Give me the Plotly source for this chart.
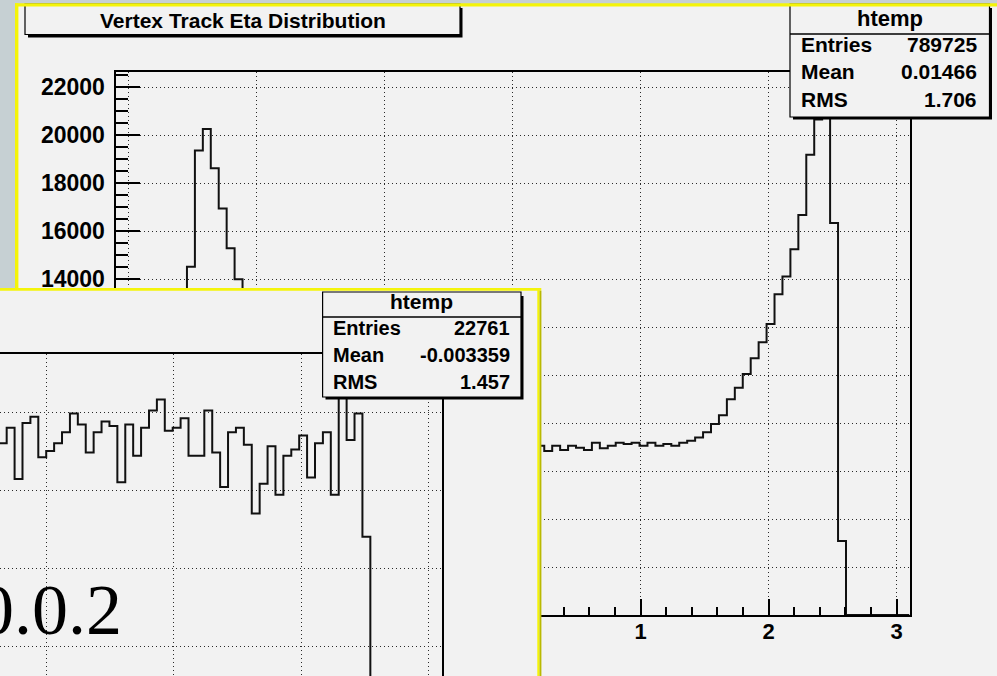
import numpy as np
import plotly.graph_objects as go

# ---------------- data ----------------
X_MIN, X_MAX, N_BINS = -3.1, 3.1, 100

# main histogram (Vertex Track Eta), 100 bins from -3.1 to 3.1
main_counts = [
    0, 0, 0, 0, 0, 0, 0, 0,
    2900, 14510, 19350, 20250, 18610, 16940, 15280, 13990,
    13200, 12300, 11250, 10550, 9950, 9350, 8900, 8300, 7900, 7600, 7380, 7230,
    7150, 7050, 7180, 6900, 7100, 7050, 7180, 6950, 7120, 7000, 7180, 7060, 6900,
    7150, 7100, 6980, 7200, 7050, 6880, 7120, 7040, 7180, 6950, 7100, 7000,
    7050, 6830, 7050, 6875, 7050, 6970, 6875, 7180, 6945, 7050, 7180, 7125, 7180,
    7050, 7180, 7050, 7125, 7050, 7180, 7265, 7400, 7610, 7960, 8320, 8985, 9470,
    10040, 10695, 11360, 12125, 13360, 14100, 15240, 16670, 19180, 20650, 21550,
    16330, 3080,
    0, 0, 0, 0, 0, 0, 0, 0,
]
main_entries, main_mean, main_rms = "789725", "0.01466", "1.706"

# inset histogram: visible bins, starting at bin index 43
INSET_FIRST_BIN = 43
inset_counts = [
    309, 280, 290, 257, 293, 297, 271, 275, 280, 287, 299, 292, 274, 287, 294,
    291, 255, 292, 272, 290, 301, 308, 288, 290, 296, 272, 272, 301, 274, 252,
    287, 290, 279, 235, 254, 278, 247, 272, 276, 285, 258, 280, 287, 247, 321,
    282, 299, 220, 0,
]
inset_entries, inset_mean, inset_rms = "22761", "-0.003359", "1.457"

main_x_ticks = [-3, -2, -1, 0, 1, 2, 3]
main_y_ticks = [0, 2000, 4000, 6000, 8000, 10000, 12000, 14000, 16000, 18000, 20000, 22000]
inset_x_grid = [0, 1, 2, 3]
inset_y_grid = [150, 200, 250, 300]

title_text = "Vertex Track Eta Distribution"
hist_name = "htemp"
overlay_text = "0.0.2"

# ---------------- layout helpers ----------------
W, H = 997, 676
def px(x):
    return x / W
def py(y):
    return 1 - y / H

CANVAS = "#f2f2f2"
YELLOW = "#f4f40a"
OLIVE = "#b9b900"
SANS = "Liberation Sans, Arial, sans-serif"

edges = np.linspace(X_MIN, X_MAX, N_BINS + 1)

fig = go.Figure()

# main histogram
fig.add_trace(go.Scatter(
    x=edges, y=main_counts + [main_counts[-1]],
    mode="lines", line=dict(shape="hv", color="#111111", width=2),
    xaxis="x", yaxis="y", hoverinfo="skip", showlegend=False))

# inset canvas cover (empty subplot that hides the main pad underneath)
fig.add_trace(go.Scatter(x=[], y=[], xaxis="x2", yaxis="y2",
                         hoverinfo="skip", showlegend=False))

# inset histogram
inset_edges = edges[INSET_FIRST_BIN:INSET_FIRST_BIN + len(inset_counts) + 1]
fig.add_trace(go.Scatter(
    x=inset_edges, y=inset_counts + [inset_counts[-1]],
    mode="lines", line=dict(shape="hv", color="#111111", width=2),
    xaxis="x3", yaxis="y3", hoverinfo="skip", showlegend=False))

grid = dict(showgrid=True, gridcolor="#2a2a2a", gridwidth=1, griddash="1px,3px",
            automargin=False)

fig.update_layout(
    width=W, height=H, autosize=False, margin=dict(l=0, r=0, t=0, b=0, pad=0, autoexpand=False),
    paper_bgcolor="#c6d0d3", plot_bgcolor=CANVAS,
    showlegend=False,
    xaxis=dict(
        domain=[px(115.5), px(909.5)], range=[X_MIN, X_MAX], anchor="y",
        showline=True, linecolor="black", linewidth=2, mirror=True,
        ticks="inside", ticklen=16, tickwidth=2, tickcolor="black",
        tickvals=main_x_ticks, zeroline=False,
        tickfont=dict(family=SANS, size=22, color="black", weight="bold"),
        ticklabelstandoff=-4,
        minor=dict(dtick=0.2, tick0=0, ticks="inside", ticklen=8, tickwidth=1.5,
                   tickcolor="black", showgrid=False),
        **grid),
    yaxis=dict(
        domain=[py(615), py(72)], range=[0, 22625], anchor="x",
        showline=True, linecolor="black", linewidth=2, mirror=True,
        ticks="inside", ticklen=24, tickwidth=2, tickcolor="black",
        tickvals=main_y_ticks, tickformat="d", zeroline=False,
        tickfont=dict(family=SANS, size=23, color="black", weight="bold"),
        ticklabelstandoff=4,
        minor=dict(dtick=500, tick0=0, ticks="inside", ticklen=12, tickwidth=1.5,
                   tickcolor="black", showgrid=False),
        **grid),
    xaxis2=dict(domain=[0, px(541)], range=[0, 1], anchor="y2", visible=False,
                automargin=False),
    yaxis2=dict(domain=[0, py(290)], range=[0, 1], anchor="x2", visible=False,
                automargin=False),
    xaxis3=dict(
        domain=[0, px(442)], range=[-0.3624, 3.104], anchor="y3", side="top",
        showline=True, linecolor="black", linewidth=2, ticks="",
        showticklabels=False, tickvals=inset_x_grid, zeroline=False, **grid),
    yaxis3=dict(
        domain=[0, py(354)], range=[130.8, 337.2], anchor="x3", side="right",
        showline=True, linecolor="black", linewidth=2, ticks="",
        showticklabels=False, tickvals=inset_y_grid, zeroline=False, **grid),
)

shapes = []
def rect(x0, y0, x1, y1, fill, line_color=None, lw=0, layer="above"):
    shapes.append(dict(type="rect", xref="paper", yref="paper",
                       x0=px(x0), x1=px(x1), y0=py(y1), y1=py(y0),
                       fillcolor=fill, layer=layer,
                       line=dict(color=line_color or fill, width=lw)))
def hline(x0, x1, y, lw=1.5, color="black"):
    shapes.append(dict(type="line", xref="paper", yref="paper",
                       x0=px(x0), x1=px(x1), y0=py(y), y1=py(y),
                       line=dict(color=color, width=lw), layer="above"))

# main canvas
rect(16, 4, W, H, CANVAS, layer="below")

# title box
rect(28, 8, 462.5, 37.5, "black")
rect(25, 4, 460, 34.5, CANVAS, "black", 1.2)
# main stats box
rect(793, 8, 992, 119.5, "black")
rect(790, 4, 989.5, 117, CANVAS, "black", 1.2)
hline(790, 989.5, 34)
# inset stats box
rect(325.5, 296, 523.5, 399.5, "black")
rect(322.6, 292, 521, 397, CANVAS, "black", 1.2)
hline(322.6, 521, 317)

# yellow borders
rect(15, 3.2, W, 6.6, YELLOW)
rect(15, 3.2, 18.4, 289, YELLOW)
rect(0, 288, 541.3, 290.8, YELLOW)
rect(537.3, 288, 539.5, H, YELLOW)
rect(539.5, 290.8, 541.4, H, OLIVE)

fig.update_layout(shapes=shapes)

ann = []
def text(x, y, s, size, anchor="center", family=SANS, weight="bold"):
    ann.append(dict(xref="paper", yref="paper", x=px(x), y=py(y), text=s,
                    showarrow=False, xanchor=anchor, yanchor="middle",
                    font=dict(family=family, size=size, color="black", weight=weight)))

text(242.5, 20, title_text, 21)
text(889.5, 18, hist_name, 22)
for yy, lab, val in [(45, "Entries", main_entries), (72, "Mean", main_mean), (99, "RMS", main_rms)]:
    text(799, yy, lab, 21, "left")
    text(979, yy, val, 21, "right")
text(421, 302, hist_name, 21)
for yy, lab, val in [(328, "Entries", inset_entries), (355, "Mean", inset_mean), (381.5, "RMS", inset_rms)]:
    text(331, yy, lab, 20, "left")
    text(512, yy, val, 20, "right")
text(-24, 610, overlay_text, 72, "left", family="Liberation Serif, Times New Roman, serif", weight="normal")

fig.update_layout(annotations=ann)

fig.write_html(
    "out.html", config=dict(displayModeBar=False, responsive=False),
    post_script=("document.documentElement.style.margin='0';"
                 "document.documentElement.style.overflow='hidden';"
                 "document.body.style.margin='0';document.body.style.padding='0';"
                 "document.body.style.overflow='hidden';"))
